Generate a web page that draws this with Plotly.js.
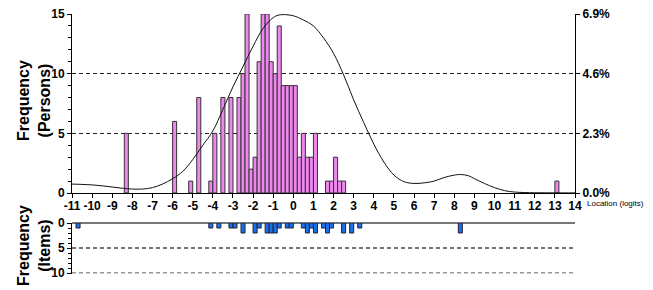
<!DOCTYPE html>
<html>
<head>
<meta charset="utf-8">
<script src="https://cdn.plot.ly/plotly-3.0.1.min.js"></script>
<style>html,body{margin:0;padding:0;background:#fff;}#chart{width:653px;height:290px;}</style>
</head>
<body>
<div id="chart"></div>
<script>
// Person histogram (bin centres in logits, bin width 0.2) and counts
const personX = [-8.3, -5.9, -5.1, -4.7, -4.1, -3.9, -3.5, -3.1, -2.7, -2.5, -2.3, -2.1, -1.9, -1.7, -1.5, -1.3, -1.1, -0.9, -0.7, -0.5, -0.3, -0.1, 0.1, 0.3, 0.5, 0.7, 0.9, 1.1, 1.7, 1.9, 2.1, 2.3, 2.5, 13.1];
const personCount = [5, 6, 1, 8, 1, 5, 8, 8, 8, 10, 15, 2, 3, 11, 15, 15, 11, 10, 14, 9, 9, 9, 9, 3, 5, 3, 3, 5, 1, 1, 3, 1, 1, 1];

// Item histogram
const itemX = [-10.7, -4.1, -3.7, -3.1, -2.9, -2.5, -1.9, -1.7, -1.3, -1.1, -0.9, -0.7, -0.3, -0.1, 0.5, 0.7, 0.9, 1.1, 1.5, 1.7, 1.9, 2.5, 2.9, 3.3, 8.3];
const itemCount = [1, 1, 1, 1, 1, 2, 2, 1, 2, 2, 2, 1, 1, 1, 1, 2, 1, 2, 1, 2, 1, 2, 2, 1, 2];

// Smoothed person distribution curve (in person-count units)
const curveX = [-11, -10.5, -10, -9.5, -9, -8.5, -8, -7.5, -7, -6.5, -6, -5.5, -5, -4.5, -4, -3.5, -3, -2.5, -2, -1.5, -1, -0.75, -0.5, 0, 0.5, 1, 1.5, 2, 2.5, 3, 3.5, 4, 4.5, 5, 5.5, 6, 6.5, 7, 7.5, 8, 8.3, 8.7, 9, 9.5, 10, 10.5, 11, 12, 13, 14];
const curveY = [0.75, 0.72, 0.68, 0.6, 0.5, 0.4, 0.33, 0.33, 0.45, 0.75, 1.2, 1.8, 2.8, 4.0, 5.2, 7.0, 8.9, 10.6, 12.3, 13.8, 14.7, 14.9, 14.95, 14.85, 14.5, 14.0, 13.0, 11.7, 9.9, 7.8, 5.9, 4.1, 2.6, 1.5, 0.95, 0.8, 0.85, 1.0, 1.3, 1.5, 1.55, 1.45, 1.2, 0.8, 0.45, 0.2, 0.08, 0.02, 0.01, 0.01];

// Tick labels
const xTicks = [-11,-10,-9,-8,-7,-6,-5,-4,-3,-2,-1,0,1,2,3,4,5,6,7,8,9,10,11,12,13,14];
const xTickText = ["-11","-10","-9","-8","-7","-6","-5","-4","-3","-2","-1","0","1","2","3","4","5","6","7","8","9","10","11","12","13","14"];
const personTickVals = [0, 5, 10, 15];
const personPctText = ["0.0%", "2.3%", "4.6%", "6.9%"];
const itemTickVals = [0, 5, 10];
const itemPctText = ["0.0%", "13.9%", "27.8%"];

const FONT = "Liberation Sans, Arial, Helvetica, sans-serif";
const tf = {family: FONT, size: 12, color: "#000", weight: "bold"};
const W = 653, H = 290;
const xDom = [72 / W, 575 / W];

const traces = [
  {type: "bar", x: personX, y: personCount, width: 0.2, xaxis: "x", yaxis: "y",
   marker: {color: "#EE88EE", line: {color: "#333", width: 1}}, hoverinfo: "skip"},
  {type: "scatter", mode: "lines", x: curveX, y: curveY, xaxis: "x", yaxis: "y2",
   line: {color: "#111", width: 1, shape: "spline", smoothing: 1}, hoverinfo: "skip"},
  {type: "bar", x: itemX, y: itemCount, width: 0.2, xaxis: "x2", yaxis: "y3",
   marker: {color: "#1A70E8", line: {color: "#223", width: 1}}, hoverinfo: "skip"}
];

const layout = {
  width: W, height: H,
  margin: {l: 0, r: 0, t: 0, b: 0},
  paper_bgcolor: "#fff", plot_bgcolor: "rgba(0,0,0,0)",
  showlegend: false, bargap: 0,
  font: {family: FONT, color: "#000"},
  xaxis: {domain: xDom, anchor: "y", range: [-11, 14], tickmode: "array", tickvals: xTicks, ticktext: xTickText,
    tickangle: 0, ticklabelstandoff: -2,
    ticks: "outside", ticklen: 4, tickcolor: "#000", showline: true, linecolor: "#000", linewidth: 1,
    showgrid: false, zeroline: false, tickfont: tf},
  yaxis: {domain: [97 / H, 276 / H], anchor: "x", range: [0, 15], tickmode: "linear", tick0: 0, dtick: 5,
    ticks: "outside", ticklen: 4, tickcolor: "#000", showline: true, linecolor: "#000", linewidth: 1,
    minor: {tickmode: "linear", tick0: 0, dtick: 1, ticks: "outside", ticklen: 3, tickcolor: "#000", showgrid: false},
    showgrid: true, gridcolor: "#222", griddash: "4px,3px", gridwidth: 1.3, zeroline: false, tickfont: tf},
  yaxis2: {overlaying: "y", anchor: "x", side: "right", range: [0, 15], tickmode: "array",
    tickvals: personTickVals, ticktext: personPctText, ticks: "outside", ticklen: 4, tickcolor: "#000",
    showline: true, linecolor: "#000", linewidth: 1, showgrid: false, zeroline: false, tickfont: tf},
  xaxis2: {domain: xDom, anchor: "y3", range: [-11, 14], showticklabels: false, ticks: "",
    showline: false, showgrid: false, zeroline: false},
  yaxis3: {domain: [16.5 / H, 67 / H], anchor: "x2", range: [10.1, 0], tickmode: "linear", tick0: 0, dtick: 5,
    ticks: "outside", ticklen: 4, tickcolor: "#000", showline: true, linecolor: "#000", linewidth: 1,
    minor: {tickmode: "linear", tick0: 0, dtick: 1, ticks: "outside", ticklen: 3, tickcolor: "#000", showgrid: false},
    showgrid: true, gridcolor: "#777", griddash: "4px,3px", gridwidth: 1.3,
    zeroline: true, zerolinecolor: "#777", zerolinewidth: 1.5, tickfont: tf},
  yaxis4: {overlaying: "y3", anchor: "x2", side: "right", range: [10.1, 0], tickmode: "array",
    tickvals: itemTickVals, ticktext: itemPctText, ticks: "outside", ticklen: 4, tickcolor: "#000",
    showline: true, linecolor: "#000", linewidth: 1, showgrid: false, zeroline: false, tickfont: tf},
  shapes: [
    {type: "line", xref: "x2 domain", yref: "y3", x0: 0, x1: 1, y0: 10, y1: 10, layer: "below",
     line: {color: "#777", width: 1.3, dash: "4px,3px"}}
  ],
  annotations: [
    {xref: "paper", yref: "paper", x: 34 / W, y: (H - 101) / H, xanchor: "center", yanchor: "middle",
     text: "Frequency<br>(Persons)", textangle: -90, showarrow: false,
     font: {family: FONT, size: 16, color: "#000", weight: "bold"}},
    {xref: "paper", yref: "paper", x: 34 / W, y: (H - 246) / H, xanchor: "center", yanchor: "middle",
     text: "Frequency<br>(Items)", textangle: -90, showarrow: false,
     font: {family: FONT, size: 16, color: "#000", weight: "bold"}},
    {xref: "paper", yref: "paper", x: 585 / W, y: (H - 203) / H, xanchor: "left", yanchor: "middle",
     text: "Location (logits)", showarrow: false,
     font: {family: FONT, size: 8, color: "#000"}}
  ]
};

Plotly.newPlot("chart", traces, layout, {displayModeBar: false, staticPlot: true});
</script>
</body>
</html>
